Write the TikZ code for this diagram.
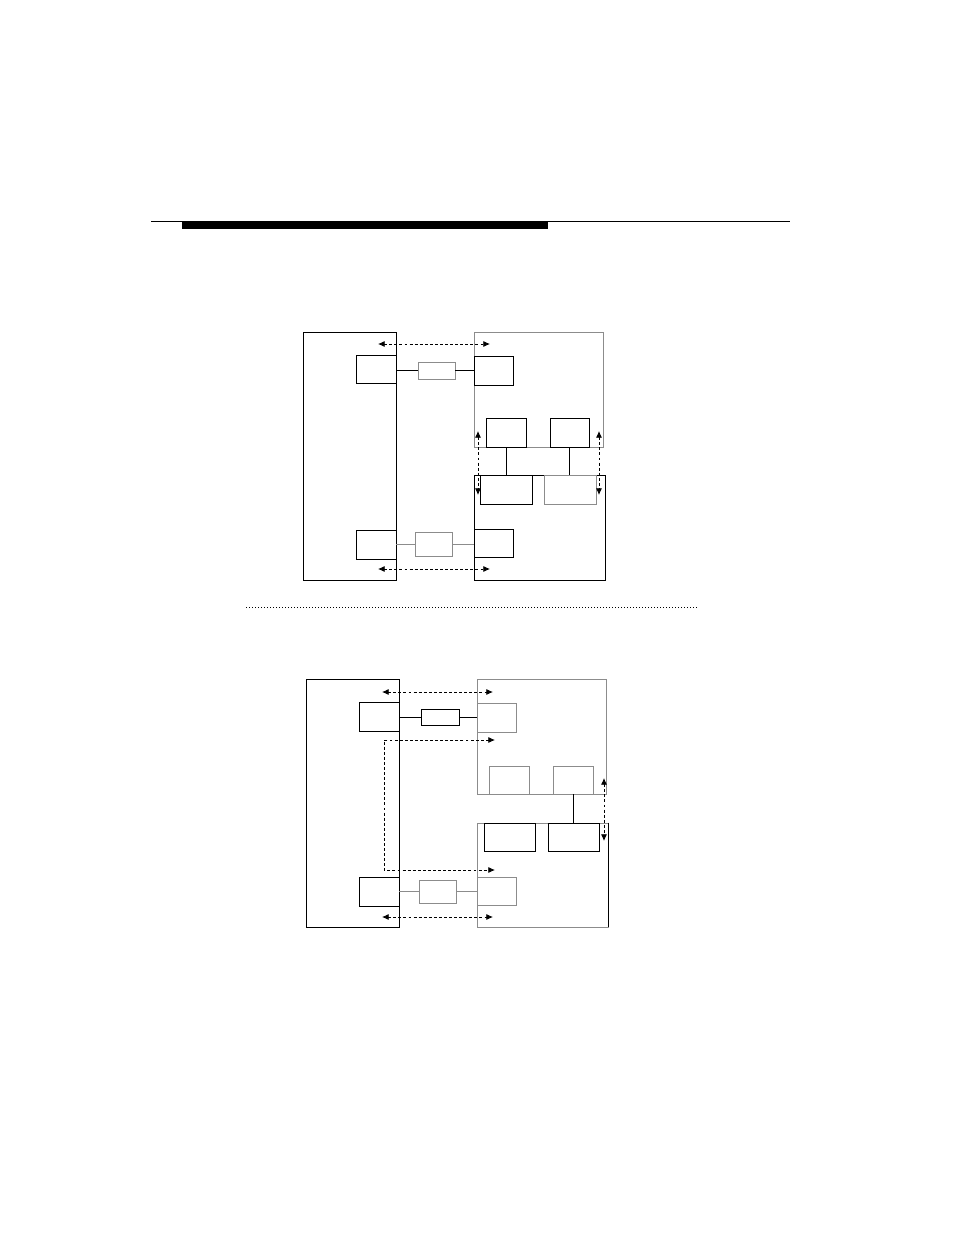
\documentclass[tikz,border=0pt]{standalone}
\usetikzlibrary{fit,arrows.meta}
\definecolor{lgray}{gray}{0.55}
\tikzset{
  box/.style={draw=black,line width=0.6pt,inner sep=0pt,fill=none},
  gbox/.style={draw=lgray,line width=0.6pt,inner sep=0pt,fill=none},
  link/.style={draw=black,line width=0.6pt},
  glink/.style={draw=lgray,line width=0.6pt},
  darr/.style={line width=0.6pt,dash pattern=on 2.2pt off 1.6pt,{Latex[length=5pt,width=4.5pt]}-{Latex[length=5pt,width=4.5pt]}},
  rulethin/.style={line width=1pt},
  sep/.style={line width=0.7pt,dash pattern=on 0.7pt off 1.55pt}
}
\begin{document}
\begin{tikzpicture}[x=0.75pt,y=-0.75pt]
\useasboundingbox (0,0) rectangle (954,1235);
% header rule
\draw[rulethin] (151,221.5) -- (790,221.5);
\fill[black] (182,221) rectangle (548,229);

% ---------------- diagram 1 ----------------
\node[box,fit={(303,332) (396,580)}] (L1) {};
\node[gbox,fit={(474,332) (603,447)}] (RT1) {};
\node[box,fit={(474,475) (605,580)}] (RB1) {};
\node[box,fit={(356,355) (396,383)}] (la1) {};
\node[gbox,fit={(418,362) (455,379)}] (ma1) {};
\node[box,fit={(474,356) (513,385)}] (ra1) {};
\node[box,fit={(486,418) (526,447)}] (A1) {};
\node[box,fit={(550,418) (589,447)}] (B1) {};
\node[box,fit={(480,475) (532,504)}] (C1) {};
\node[gbox,fit={(544,475) (596,504)}] (D1) {};
\node[box,fit={(356,530) (396,559)}] (lb1) {};
\node[gbox,fit={(415,532) (452,556)}] (mb1) {};
\node[box,fit={(474,529) (513,557)}] (rb1) {};

\draw[link] (ma1.west -| la1.east) -- (ma1.west);
\draw[link] (ma1.east) -- (ma1.east -| ra1.west);
\draw[glink] (mb1.west -| lb1.east) -- (mb1.west);
\draw[glink] (mb1.east) -- (mb1.east -| rb1.west);
\draw[link] (A1.south) -- (A1.south |- C1.north);
\draw[link] (B1.south) -- (B1.south |- D1.north);

\coordinate (d1a) at (378,344);
\coordinate (d1b) at (490,344);
\coordinate (d1c) at (378,569);
\coordinate (d1d) at (490,569);
\coordinate (d1e) at (478,431);
\coordinate (d1f) at (478,495);
\coordinate (d1g) at (599,431);
\coordinate (d1h) at (599,495);
\draw[darr] (d1a) -- (d1b);
\draw[darr] (d1c) -- (d1d);
\draw[darr] (d1e) -- (d1f);
\draw[darr] (d1g) -- (d1h);

% separator
\coordinate (s1) at (246,607);
\coordinate (s2) at (697,607);
\draw[sep] (s1) -- (s2);

% ---------------- diagram 2 ----------------
\node[box,fit={(306,679) (399,927)}] (L2) {};
\node[gbox,fit={(477,679) (606,794)}] (RT2) {};
\node[gbox,fit={(477,823) (608,927)}] (RB2) {};
\draw[link] (RB2.north east) -- (RB2.south east);
\node[box,fit={(359,702) (399,731)}] (la2) {};
\node[box,fit={(421,709) (459,725)}] (ma2) {};
\node[gbox,fit={(477,703) (516,732)}] (ra2) {};
\node[gbox,fit={(489,766) (529,794)}] (A2) {};
\node[gbox,fit={(553,766) (593,794)}] (B2) {};
\node[box,fit={(484,823) (535,851)}] (C2) {};
\node[box,fit={(548,823) (599,851)}] (D2) {};
\node[box,fit={(359,877) (399,906)}] (lb2) {};
\node[gbox,fit={(419,880) (456,903)}] (mb2) {};
\node[gbox,fit={(477,877) (516,905)}] (rb2) {};

\draw[link] (ma2.west -| la2.east) -- (ma2.west);
\draw[link] (ma2.east) -- (ma2.east -| ra2.west);
\draw[glink] (mb2.west -| lb2.east) -- (mb2.west);
\draw[glink] (mb2.east) -- (mb2.east -| rb2.west);
\draw[link] (B2.south) -- (B2.south |- D2.north);

\coordinate (d2a) at (382,692);
\coordinate (d2b) at (493,692);
\coordinate (d2c) at (382,917);
\coordinate (d2d) at (493,917);
\coordinate (d2e) at (495,740);
\coordinate (d2f) at (495,870);
\coordinate (d2g) at (604,778);
\coordinate (d2h) at (604,841);
\draw[darr] (d2a) -- (d2b);
\draw[darr] (d2c) -- (d2d);
\draw[darr] (d2e) -- (384,740) -- (384,870) -- (d2f);
\draw[darr] (d2g) -- (d2h);
\end{tikzpicture}
\end{document}
